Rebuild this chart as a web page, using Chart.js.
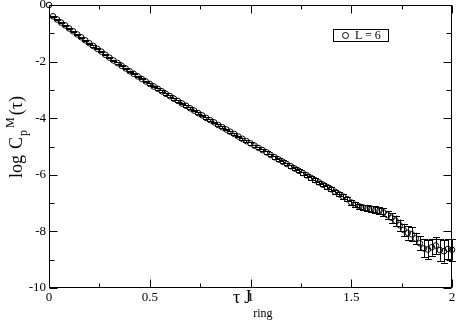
<!DOCTYPE html>
<html><head><meta charset="utf-8">
<script src="https://cdn.jsdelivr.net/npm/chart.js@4/dist/chart.umd.min.js"></script>
<style>
html,body{margin:0;padding:0;background:#fff;}
#wrap{position:relative;width:457px;height:324px;overflow:hidden;}
canvas{position:absolute;left:0;top:0;}
.ttl{position:absolute;font-family:"Liberation Serif","Times New Roman",serif;color:#000;white-space:nowrap;line-height:18px;}
#xt{left:233px;top:288px;font-size:18px;}
#yt{left:17px;top:137px;transform:translate(-50%,-50%) rotate(-90deg);font-size:18px;}
.sub{font-size:12px;position:relative;top:14px;}
.sup{font-size:12px;position:relative;top:-8px;}
#leg{position:absolute;left:333px;top:29px;width:54px;height:11px;border:1px solid #000;font-family:"Liberation Serif",serif;font-size:12px;line-height:11px;}
#leg .mk{position:absolute;left:8px;top:2px;width:5px;height:5px;border:1px solid #000;border-radius:50%;}
#leg .tx{position:absolute;left:21px;top:0px;}
</style></head><body>
<div id="wrap"><canvas id="c" width="457" height="324"></canvas>
<div class="ttl" id="xt">τ<span style="margin-left:4px">J</span><span class="sub" style="margin-left:2px">ring</span></div>
<div class="ttl" id="yt">log<span style="margin-left:6px">C</span><span class="sub" style="top:5px;margin-left:1px">p</span><span class="sup" style="margin-left:2px">M</span><span style="margin-left:2px">(τ)</span></div>
<div id="leg"><span class="mk"></span><span class="tx">L = 6</span></div>
</div>
<script>
const tau = [0.00,0.02,0.04,0.06,0.08,0.10,0.12,0.14,0.16,0.18,0.20,0.22,0.24,0.26,0.28,0.30,0.32,0.34,0.36,0.38,
0.40,0.42,0.44,0.46,0.48,0.50,0.52,0.54,0.56,0.58,0.60,0.62,0.64,0.66,0.68,0.70,0.72,0.74,0.76,0.78,
0.80,0.82,0.84,0.86,0.88,0.90,0.92,0.94,0.96,0.98,1.00,1.02,1.04,1.06,1.08,1.10,1.12,1.14,1.16,1.18,
1.20,1.22,1.24,1.26,1.28,1.30,1.32,1.34,1.36,1.38,1.40,1.42,1.44,1.46,1.48,1.50,1.52,1.54,1.56,1.58,
1.60,1.62,1.64,1.66,1.68,1.70,1.72,1.74,1.76,1.78,1.80,1.82,1.84,1.86,1.88,1.90,1.92,1.94,1.96,1.98,2.00];
const logC = [0.00,-0.40,-0.51,-0.62,-0.72,-0.83,-0.93,-1.04,-1.14,-1.25,-1.35,-1.45,-1.55,-1.65,-1.76,-1.86,-1.96,-2.05,-2.15,-2.24,
-2.34,-2.43,-2.52,-2.61,-2.70,-2.79,-2.88,-2.96,-3.05,-3.14,-3.22,-3.31,-3.39,-3.48,-3.56,-3.65,-3.73,-3.82,-3.90,-3.99,
-4.07,-4.15,-4.24,-4.32,-4.40,-4.48,-4.56,-4.65,-4.73,-4.81,-4.89,-4.97,-5.05,-5.13,-5.21,-5.30,-5.38,-5.46,-5.54,-5.62,
-5.70,-5.78,-5.86,-5.94,-6.02,-6.11,-6.19,-6.27,-6.35,-6.43,-6.51,-6.60,-6.69,-6.77,-6.86,-6.98,-7.06,-7.12,-7.16,-7.18,
-7.21,-7.24,-7.27,-7.33,-7.42,-7.52,-7.62,-7.78,-7.95,-8.05,-8.10,-8.25,-8.42,-8.60,-8.64,-8.56,-8.50,-8.66,-8.70,-8.62,-8.65];
const errC = [0.00,0.01,0.01,0.01,0.01,0.01,0.01,0.01,0.01,0.01,0.02,0.02,0.02,0.02,0.02,0.02,0.02,0.02,0.02,0.02,
0.02,0.02,0.02,0.02,0.02,0.03,0.03,0.03,0.03,0.03,0.03,0.03,0.03,0.03,0.03,0.03,0.03,0.03,0.03,0.03,
0.03,0.03,0.03,0.03,0.03,0.03,0.03,0.03,0.04,0.04,0.04,0.04,0.04,0.04,0.04,0.05,0.05,0.05,0.05,0.05,
0.05,0.05,0.05,0.05,0.06,0.06,0.06,0.06,0.06,0.07,0.07,0.07,0.07,0.08,0.08,0.08,0.09,0.10,0.10,0.11,
0.12,0.12,0.13,0.14,0.15,0.17,0.18,0.20,0.22,0.24,0.25,0.20,0.25,0.32,0.35,0.30,0.30,0.38,0.40,0.35,0.38];
const xTickVals = [0, 0.5, 1, 1.5, 2];
const xTickLabels = ['0', '0.5', '1', '1.5', '2'];
const yTickVals = [-10, -8, -6, -4, -2, 0];
const yTickLabels = ['-10', '-8', '-6', '-4', '-2', '0'];
const seriesName = 'L = 6';

const pts = tau.map((t, i) => ({x: t, y: logC[i]}));

const framePlugin = {
  id: 'frame',
  beforeDatasetsDraw(chart) {
    const ctx = chart.ctx, xs = chart.scales.x, ys = chart.scales.y;
    ctx.save();
    ctx.strokeStyle = '#000';
    ctx.lineWidth = 1;
    ctx.beginPath();
    pts.forEach((p, i) => {
      const e = errC[i];
      if (!e) return;
      const px = Math.round(xs.getPixelForValue(p.x)) + 0.5;
      const y1 = ys.getPixelForValue(p.y + e), y2 = ys.getPixelForValue(p.y - e);
      ctx.moveTo(px, y1); ctx.lineTo(px, y2);
      ctx.moveTo(px - 3.5, Math.round(y1) + 0.5); ctx.lineTo(px + 3.5, Math.round(y1) + 0.5);
      ctx.moveTo(px - 3.5, Math.round(y2) + 0.5); ctx.lineTo(px + 3.5, Math.round(y2) + 0.5);
    });
    ctx.stroke();
    ctx.restore();
  },
  afterDraw(chart) {
    const ctx = chart.ctx, a = chart.chartArea, xs = chart.scales.x, ys = chart.scales.y;
    ctx.save();
    ctx.strokeStyle = '#000';
    ctx.lineWidth = 1;
    const L = Math.round(a.left) + 0.5, R = Math.round(a.right) - 0.5, T = Math.round(a.top) + 0.5, B = Math.round(a.bottom) - 0.5;
    ctx.strokeRect(L, T, R - L, B - T);
    ctx.beginPath();
    for (let k = 0; k <= 8; k++) {
      const v = k * 0.25, len = (k % 2 === 0) ? 8 : 4;
      const px = Math.round(xs.getPixelForValue(v)) + 0.5;
      ctx.moveTo(px, B); ctx.lineTo(px, B - len);
      ctx.moveTo(px, T); ctx.lineTo(px, T + len);
    }
    for (let v = -10; v <= 0; v++) {
      const len = (v % 2 === 0) ? 8 : 5;
      const py = Math.round(ys.getPixelForValue(v)) + 0.5;
      ctx.moveTo(L, py); ctx.lineTo(L + len, py);
      ctx.moveTo(R, py); ctx.lineTo(R - len, py);
    }
    ctx.stroke();
    ctx.restore();
  }
};

const tickFont = {family: '"Liberation Serif", serif', size: 13};
new Chart(document.getElementById('c'), {
  type: 'scatter',
  data: {datasets: [{
    label: seriesName,
    data: pts,
    showLine: false,
    pointStyle: 'circle',
    pointRadius: 2.8,
    pointBorderWidth: 1,
    pointBorderColor: '#000',
    pointBackgroundColor: 'rgba(0,0,0,0)',
    clip: false
  }]},
  options: {
    responsive: false,
    animation: false,
    layout: {padding: {top: 5, right: 4, left: 0, bottom: 0}},
    plugins: {legend: {display: false}, tooltip: {enabled: false}},
    scales: {
      x: {
        type: 'linear', min: 0, max: 2,
        afterBuildTicks: s => { s.ticks = xTickVals.map(v => ({value: v})); },
        afterFit: s => { s.height = 36; s.paddingLeft = 0; s.paddingRight = 0; },
        ticks: {callback: (v) => xTickLabels[xTickVals.indexOf(v)], color: '#000', font: tickFont, padding: 2, maxRotation: 0, autoSkip: false},
        grid: {display: false, drawTicks: false},
        border: {display: false}
      },
      y: {
        type: 'linear', min: -10, max: 0,
        afterBuildTicks: s => { s.ticks = yTickVals.map(v => ({value: v})); },
        afterFit: s => { s.width = 49; s.paddingTop = 0; s.paddingBottom = 0; },
        ticks: {callback: (v) => yTickLabels[yTickVals.indexOf(v)], color: '#000', font: tickFont, padding: 3, autoSkip: false},
        grid: {display: false, drawTicks: false},
        border: {display: false}
      }
    }
  },
  plugins: [framePlugin]
});
</script>
</body></html>
